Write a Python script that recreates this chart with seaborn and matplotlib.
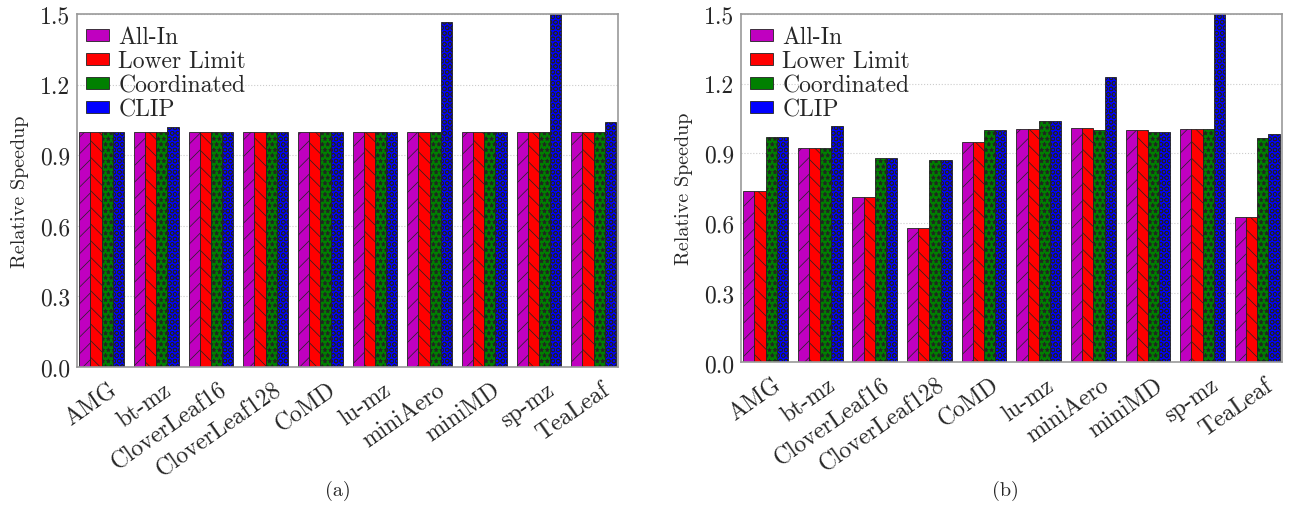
import seaborn as sns
import pandas as pd
import numpy as np
import matplotlib.pyplot as plt
import matplotlib.transforms as mtransforms

# data
apps = ['AMG', 'bt-mz', 'CloverLeaf16', 'CloverLeaf128', 'CoMD',
        'lu-mz', 'miniAero', 'miniMD', 'sp-mz', 'TeaLeaf']
policies = ['All-In', 'Lower Limit', 'Coordinated', 'CLIP']

# (a)
a_allin = [1.0, 1.0, 1.0, 1.0, 1.0, 1.0, 1.0, 1.0, 1.0, 1.0]
a_lower = [1.0, 1.0, 1.0, 1.0, 1.0, 1.0, 1.0, 1.0, 1.0, 1.0]
a_coord = [1.0, 1.0, 1.0, 1.0, 1.0, 1.0, 1.0, 1.0, 1.0, 1.0]
a_clip = [1.0, 1.02, 1.0, 1.0, 1.0, 1.0, 1.467, 1.0, 1.55, 1.04]

# (b)
b_allin = [0.739, 0.922, 0.713, 0.578, 0.951, 1.006, 1.01, 1.002, 1.007, 0.628]
b_lower = [0.739, 0.922, 0.713, 0.578, 0.951, 1.006, 1.01, 1.002, 1.007, 0.628]
b_coord = [0.971, 0.922, 0.882, 0.870, 1.0, 1.04, 1.0, 0.99, 1.003, 0.966]
b_clip = [0.971, 1.02, 0.882, 0.870, 1.0, 1.04, 1.23, 0.99, 1.55, 0.983]

palette = ['#c000c0', '#ff0000', '#008000', '#0000ff']
hatches = ['//', '\\\\', '***', 'OOO']

sns.set_style("white")
plt.rcParams['font.family'] = ['cmr10', 'DejaVu Serif']
plt.rcParams['mathtext.fontset'] = 'cm'
plt.rcParams['axes.formatter.use_mathtext'] = True
plt.rcParams['hatch.linewidth'] = 0.5


def make_df(vals):
    rows = []
    for pol, v in zip(policies, vals):
        for app, x in zip(apps, v):
            rows.append({'App': app, 'Policy': pol, 'Speedup': x})
    return pd.DataFrame(rows)


fig = plt.figure(figsize=(12.96, 5.1), dpi=100)
ax1 = fig.add_axes([0.0594, 0.2784, 0.4176, 0.6922])
ax2 = fig.add_axes([0.5718, 0.2873, 0.4172, 0.6833])

for ax, vals, cap, cx in [(ax1, [a_allin, a_lower, a_coord, a_clip], '(a)', 0.261),
                          (ax2, [b_allin, b_lower, b_coord, b_clip], '(b)', 0.776)]:
    df = make_df(vals)
    sns.barplot(data=df, x='App', y='Speedup', hue='Policy', palette=palette,
                width=0.82, edgecolor='#222222', linewidth=0.6, saturation=1,
                ax=ax, zorder=2)
    for cont, h in zip(ax.containers, hatches):
        for p in cont:
            p.set_hatch(h)
    ax.set_ylim(0, 1.5)
    ax.set_xlim(-0.45, 9.45)
    ax.set_yticks([0.0, 0.3, 0.6, 0.9, 1.2, 1.5])
    ax.set_yticklabels(['0.0', '0.3', '0.6', '0.9', '1.2', '1.5'], fontsize=17)
    ax.yaxis.grid(True, linestyle=':', color='#cccccc', linewidth=0.8, zorder=0)
    ax.set_axisbelow(True)
    ax.tick_params(axis='y', length=0, pad=5)
    ax.tick_params(axis='x', length=0, pad=8)
    shift = mtransforms.ScaledTranslation(7 / 100, 0, fig.dpi_scale_trans)
    for lab in ax.get_xticklabels():
        lab.set_rotation(35)
        lab.set_ha('right')
        lab.set_rotation_mode('anchor')
        lab.set_fontsize(17)
        lab.set_transform(lab.get_transform() + shift)
    for s in ax.spines.values():
        s.set_color('#999999')
        s.set_linewidth(1.2)
    ax.set_xlabel('')
    ax.set_ylabel('Relative Speedup', fontsize=14.5, labelpad=8)
    leg = ax.legend(loc='upper left', bbox_to_anchor=(0, 0.993), frameon=False, fontsize=17,
                    handlelength=0.95, handleheight=0.4, labelspacing=0.08,
                    borderaxespad=0.0, handletextpad=0.4)
    fig.text(cx, 0.037, cap, ha='center', va='center', fontsize=14.5)

fig.savefig('out.png', dpi=100)
